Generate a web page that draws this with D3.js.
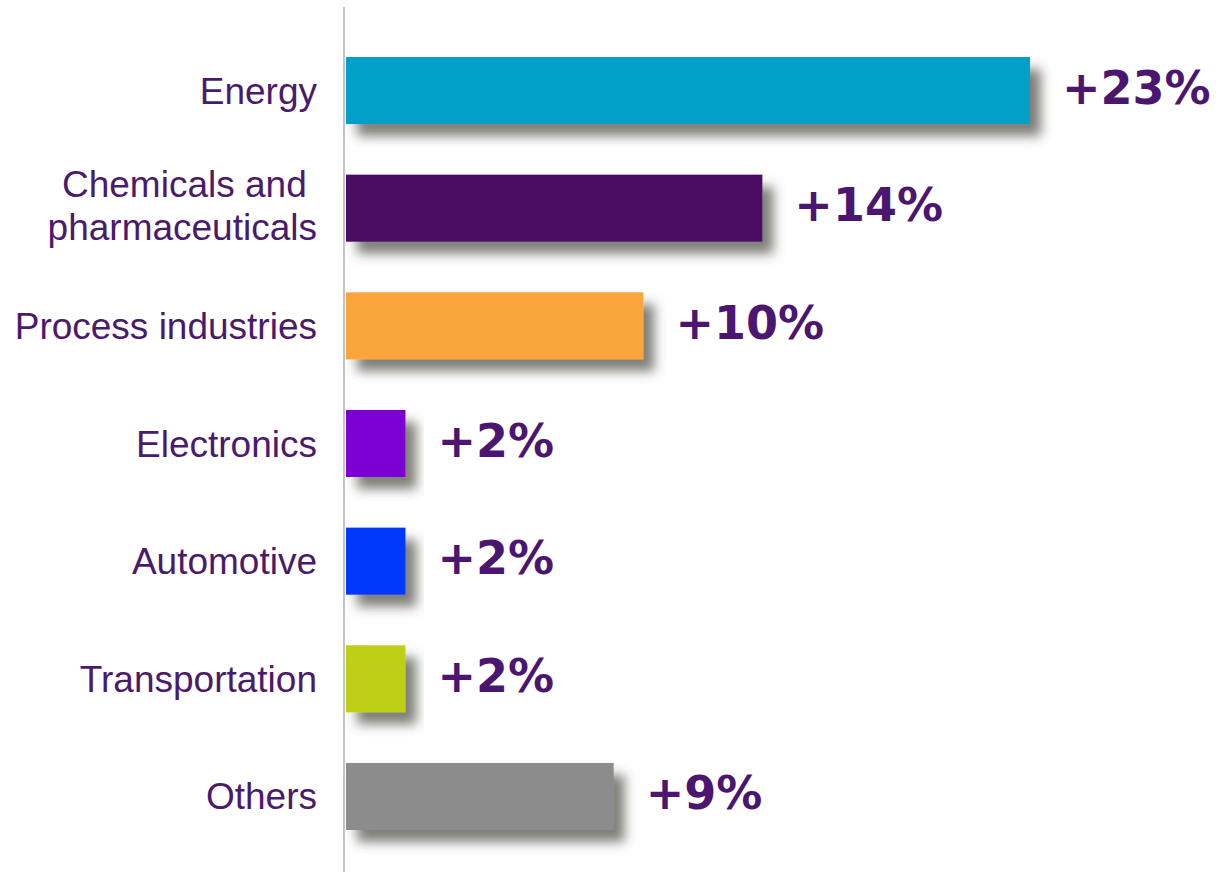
<!DOCTYPE html>
<html>
<head>
<meta charset="utf-8">
<script src="https://cdn.jsdelivr.net/npm/d3@7"></script>
<style>
  html, body { margin: 0; padding: 0; background: #ffffff; }
  svg { display: block; }
</style>
</head>
<body>
<svg id="chart" width="1222" height="874"></svg>
<script>
// Growth by sector (percentage points)
const categories = [
  "Energy",
  "Chemicals and \npharmaceuticals",
  "Process industries",
  "Electronics",
  "Automotive",
  "Transportation",
  "Others"
];
const values = [23, 14, 10, 2, 2, 2, 9];
const valueLabels = ["+23%", "+14%", "+10%", "+2%", "+2%", "+2%", "+9%"];
const barColors = ["#03a0c8", "#4b0f64", "#fba63d", "#7c05d2", "#0339fd", "#bdd013", "#8c8c8c"];

const labelColor = "#4a1a6c";
const valueColor = "#4a1670";

const svg = d3.select("#chart");

const axisX = 344;
const x = d3.scaleLinear().domain([0, 23]).range([346, 1030]);
const y = d3.scaleBand()
  .domain(categories)
  .range([57, 830])
  .paddingInner(0.43)
  .paddingOuter(0);

// soft drop shadow under each bar
const defs = svg.append("defs");
const f = defs.append("filter")
  .attr("id", "barShadow")
  .attr("x", "-20%").attr("y", "-30%")
  .attr("width", "150%").attr("height", "190%");
f.append("feDropShadow")
  .attr("dx", 11).attr("dy", 12)
  .attr("stdDeviation", 6)
  .attr("flood-color", "#4a4a40")
  .attr("flood-opacity", 0.7);

// vertical baseline
svg.append("line")
  .attr("x1", axisX).attr("x2", axisX)
  .attr("y1", 7).attr("y2", 872)
  .attr("stroke", "#c4c4c4")
  .attr("stroke-width", 2);

const rows = svg.selectAll("g.row")
  .data(categories.map((c, i) => ({ c, v: values[i], label: valueLabels[i], color: barColors[i] })))
  .join("g")
  .attr("class", "row");

rows.append("rect")
  .attr("x", x(0))
  .attr("y", d => y(d.c))
  .attr("width", d => x(d.v) - x(0))
  .attr("height", y.bandwidth())
  .attr("fill", d => d.color)
  .attr("filter", "url(#barShadow)");

// value labels
rows.append("text")
  .attr("x", d => x(d.v) + 32)
  .attr("y", d => y(d.c) + y.bandwidth() / 2 + 13)
  .attr("fill", valueColor)
  .attr("font-family", "'DejaVu Sans', Verdana, sans-serif")
  .attr("font-weight", "bold")
  .attr("font-size", 46)
  .text(d => d.label);

// category labels, right-aligned against the baseline
rows.append("text")
  .attr("text-anchor", "end")
  .attr("fill", labelColor)
  .attr("font-family", "'Liberation Sans', Arial, sans-serif")
  .attr("font-size", 37)
  .style("white-space", "pre")
  .each(function(d) {
    const lines = d.c.split("\n");
    const cy = y(d.c) + y.bandwidth() / 2;
    const t = d3.select(this);
    if (lines.length === 1) {
      t.append("tspan").attr("x", 317).attr("y", cy + 13).text(lines[0]);
    } else {
      lines.forEach((ln, k) => {
        t.append("tspan").attr("x", 317).attr("y", cy - 11 + k * 43).text(ln);
      });
    }
  });
</script>
</body>
</html>
